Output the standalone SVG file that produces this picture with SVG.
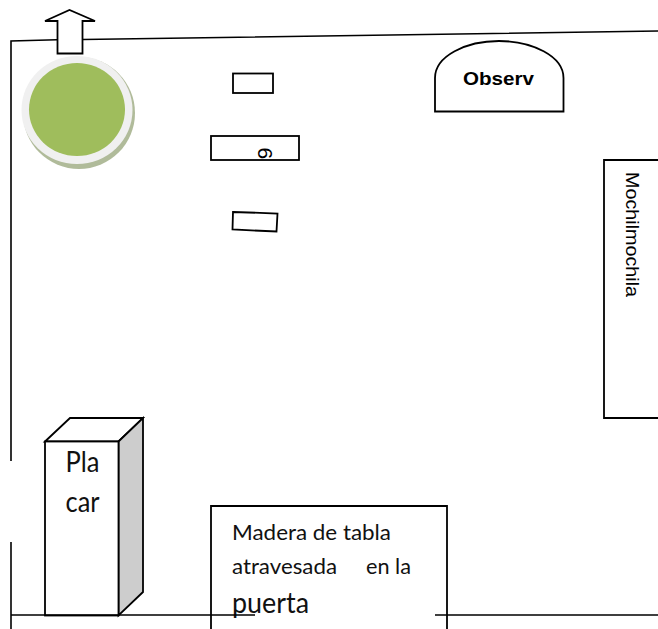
<svg xmlns="http://www.w3.org/2000/svg" width="658" height="629" viewBox="0 0 658 629">
<style>
.s{fill:#fff;stroke:#000;stroke-width:1.800;stroke-linejoin:miter}
.l{fill:none;stroke:#000;stroke-width:1.600}
.c{font-family:"Lato","Open Sans",sans-serif;fill:#111}
.a{font-family:"Liberation Sans",Arial,sans-serif;fill:#000}
</style>
<rect width="658" height="629" fill="#fff"/>
<g id="connectors">
<path class="l" d="M11 461V41L57 39.700M83 39.500L658 31"/>
<path class="l" d="M11 542V629"/>
</g>
<g id="arrow"><path class="s" d="M57.500 53.500V21H45L69.500 10L95 21H82.500V53.500Z"/></g>
<g id="circle">
<circle cx="79" cy="113" r="56" fill="#b0bb9a"/>
<ellipse cx="77" cy="110" rx="55.500" ry="54" fill="#f0f0f0"/>
<ellipse cx="77" cy="109.500" rx="48" ry="46.500" fill="#9fbd5c"/>
</g>
<g id="rect1"><rect class="s" x="233" y="73.500" width="40" height="19.500"/></g>
<g id="rect2"><rect class="s" x="211" y="136" width="88" height="24"/><text class="a" transform="translate(258 147.500) rotate(90)" font-size="21">6</text></g>
<g id="rect3"><path class="s" d="M233 212L277.500 213.500L276.500 231.500L232.500 229.500Z"/></g>
<g id="observ"><path class="s" d="M435 111.500V78C435 56 466 41 499 41S563.500 56 563.500 78V111.500Z"/><text class="a" x="463" y="84.500" font-size="18.500" font-weight="700" textLength="71" lengthAdjust="spacingAndGlyphs">Observ</text></g>
<g id="mochila"><path class="s" d="M658 160H604V418H658"/><text class="a" transform="translate(625.500 172) rotate(90)" font-size="17.500" textLength="125" lengthAdjust="spacingAndGlyphs">Mochilmochila</text></g>
<g id="placar">
<path class="s" d="M45 441.500L70 418H143L118.500 441.500Z"/>
<path d="M118.500 441.500L143 418V592L118.500 615.500Z" fill="#cdcdcd" stroke="#000" stroke-width="1.800"/>
<rect class="s" x="45" y="441.500" width="73.500" height="174"/>
<text class="c" x="65.500" y="471.500" font-size="28" textLength="34" lengthAdjust="spacingAndGlyphs">Pla</text>
<text class="c" x="65.500" y="512" font-size="28" textLength="34" lengthAdjust="spacingAndGlyphs">car</text>
</g>
<g id="madera">
<path class="s" d="M211 629V506H447V629"/>
<text class="c" x="232" y="540" font-size="21" textLength="159" lengthAdjust="spacingAndGlyphs">Madera de tabla</text>
<text class="c" x="232" y="574" font-size="21" textLength="105" lengthAdjust="spacingAndGlyphs">atravesada</text>
<text class="c" x="366" y="574" font-size="21" textLength="45" lengthAdjust="spacingAndGlyphs">en la</text>
<text class="c" x="232" y="613" font-size="28" textLength="77" lengthAdjust="spacingAndGlyphs">puerta</text>
</g>
<g id="floor"><path class="l" d="M11 615H255M435 615H658"/></g>
</svg>
